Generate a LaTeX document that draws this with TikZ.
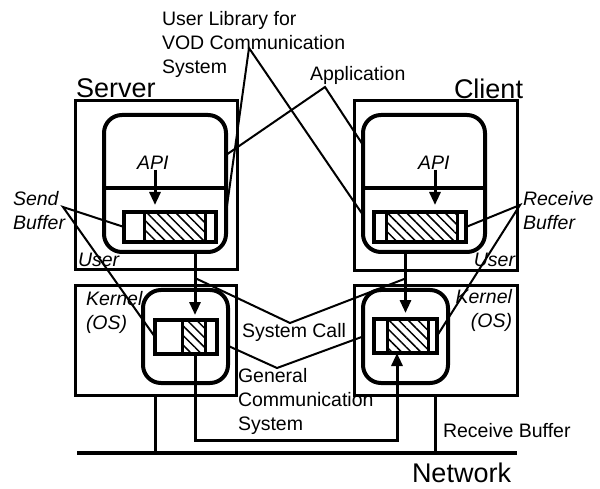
\documentclass[tikz,border=0pt]{standalone}
\usepackage{fontspec}
\setmainfont{Liberation Sans}
\usetikzlibrary{arrows.meta,patterns.meta,calc}

\begin{document}
\begin{tikzpicture}[x=1pt,y=-1pt,
  every node/.style={inner sep=0pt, outer sep=0pt},
  box/.style={draw, line width=3pt},
  rbox/.style={draw, line width=4pt, rounded corners=18pt},
  buf/.style={draw, line width=3.5pt},
  hatch/.style={pattern={Lines[angle=-45,distance=6.8pt,line width=1.5pt]}},
  divider/.style={line width=3pt},
  lead/.style={line width=2pt},
  flow/.style={line width=3pt, -{Triangle[length=13pt,width=11pt]}},
  wire/.style={line width=2.5pt},
  net/.style={line width=3.5pt},
  lbl/.style={font=\fontsize{19.5}{24}\selectfont, anchor=base west, align=left},
  ilbl/.style={lbl, font=\fontsize{19.5}{24}\selectfont\itshape},
  big/.style={font=\fontsize{27}{32}\selectfont, anchor=base west},
]
\useasboundingbox (0,0) rectangle (600,489);

% host frames: user space and kernel space
\node[box, minimum width=162pt, minimum height=169pt] (su) at (156,185.5) {};
\node[box, minimum width=161pt, minimum height=109pt] (sk) at (155.5,340.5) {};
\node[box, minimum width=163pt, minimum height=170pt] (cu) at (435.5,186) {};
\node[box, minimum width=163pt, minimum height=109pt] (ck) at (435.5,340.5) {};

% application / library blocks and kernel blocks
\node[rbox, minimum width=122pt, minimum height=137pt] (sa) at (165,183.5) {};
\node[rbox, minimum width=122pt, minimum height=137pt] (ca) at (424,183.5) {};
\node[rbox, minimum width=85pt, minimum height=93pt] (skr) at (185.5,336.5) {};
\node[rbox, minimum width=85pt, minimum height=93pt] (ckr) at (405.5,336.5) {};
\draw[line width=3.5pt] (sa.west |- 0,188) -- (sa.east |- 0,188);
\draw[line width=3.5pt] (ca.west |- 0,188) -- (ca.east |- 0,188);

% buffers with hatched data
\fill[hatch] (144,212) rectangle (205,242);
\fill[hatch] (386,212) rectangle (457,242);
\fill[hatch] (182,320) rectangle (205,354);
\fill[hatch] (387,319) rectangle (428,353);
\node[buf, minimum width=92pt, minimum height=30pt] (sb) at (170,227) {};
\node[buf, minimum width=92pt, minimum height=30pt] (cb) at (420,227) {};
\node[buf, minimum width=62pt, minimum height=34pt] (skb) at (186,337) {};
\node[buf, minimum width=63pt, minimum height=34pt] (ckb) at (405.5,336) {};
\draw[divider] (sb.north -| 144,0) -- (sb.south -| 144,0);
\draw[divider] (sb.north -| 205,0) -- (sb.south -| 205,0);
\draw[divider] (cb.north -| 386,0) -- (cb.south -| 386,0);
\draw[divider] (cb.north -| 457,0) -- (cb.south -| 457,0);
\draw[divider] (skb.north -| 182,0) -- (skb.south -| 182,0);
\draw[divider] (skb.north -| 205,0) -- (skb.south -| 205,0);
\draw[divider] (ckb.north -| 387,0) -- (ckb.south -| 387,0);
\draw[divider] (ckb.north -| 428,0) -- (ckb.south -| 428,0);

% labels
\node[lbl, anchor=north west] (ulib) at (162,11) {User Library for\\VOD Communication\\System};
\node[lbl] (app) at (310,81) {Application};
\node[big] (server) at (76,98) {Server};
\node[big] (client) at (454,99) {Client};
\node[ilbl] (sapi) at (137,170) {API};
\node[ilbl] (capi) at (418,170) {API};
\node[ilbl, anchor=north west] (send) at (13,191) {Send\\Buffer};
\node[ilbl, anchor=north west] (recv) at (523,191) {Receive\\Buffer};
\node[ilbl] (suser) at (78,267) {User};
\node[ilbl, anchor=base east] (cuser) at (515,267) {User};
\node[ilbl, anchor=north west] (skern) at (86,291) {Kernel\\(OS)};
\node[ilbl, anchor=north east, align=right] (ckern) at (512,289) {Kernel\\(OS)};
\node[lbl] (syscall) at (242,337) {System Call};
\node[lbl, anchor=north west] (gcs) at (238,368) {General\\Communication\\System};
\node[lbl] (rbuf) at (443,437) {Receive Buffer};
\node[big] (netlbl) at (412,482) {Network};

% API calls into the library buffers
\draw[flow, shorten >=7pt] (sapi.south -| 155,0) -- (sb.north -| 155,0);
\draw[flow, shorten >=7pt] (capi.south -| 435,0) -- (cb.north -| 435,0);

% system calls into the kernel buffers
\draw[flow, shorten >=5pt] (sa.south -| 195,0) -- ([xshift=9pt]skb.north);
\draw[flow, shorten >=6pt] (ckb.north |- ca.south) -- (ckb.north);

% transfer across the network
\draw[flow] ([xshift=9pt]skb.south) -- ++(0,86) -| ([xshift=-8.5pt]ckb.south);

% network bus
\coordinate (netL) at (77,453);
\coordinate (netR) at (517,453);
\draw[net] (netL) -- (netR);
\draw[wire] (sk.south) -- (sk.south |- netL);
\draw[wire] (ck.south) -- (ck.south |- netL);

% leader lines
\coordinate (ulibtip) at (249,48);
\coordinate (apptip) at (325,87);
\coordinate (sendtip) at (63,207);
\coordinate (recvtip) at (520,205);
\coordinate (sctip) at (290,323);
\coordinate (gcstip) at (277,368);
\coordinate (sgap) at ($(su.south)!0.5!(sk.north)$);
\coordinate (cgap) at ($(cu.south)!0.5!(ck.north)$);

\draw[lead] ($(sa.north east)!0.715!(sa.south east)$) -- (ulibtip) -- ($(ca.north west)!0.73!(ca.south west)$);
\draw[lead] ($(sa.north east)!0.292!(sa.south east)$) -- (apptip) -- ($(ca.north west)!0.219!(ca.south west)$);
\draw[lead] (sb.west) -- (sendtip) -- (skb.west);
\draw[lead] (cb.east) -- (recvtip) -- (ckb.east);
\draw[lead] (sgap -| 195,0) -- (sctip) -- (ckb.north |- cgap);
\draw[lead] ($(skr.north east)!0.6!(skr.south east)$) -- (gcstip) -- (ckr.west);
\end{tikzpicture}
\end{document}
